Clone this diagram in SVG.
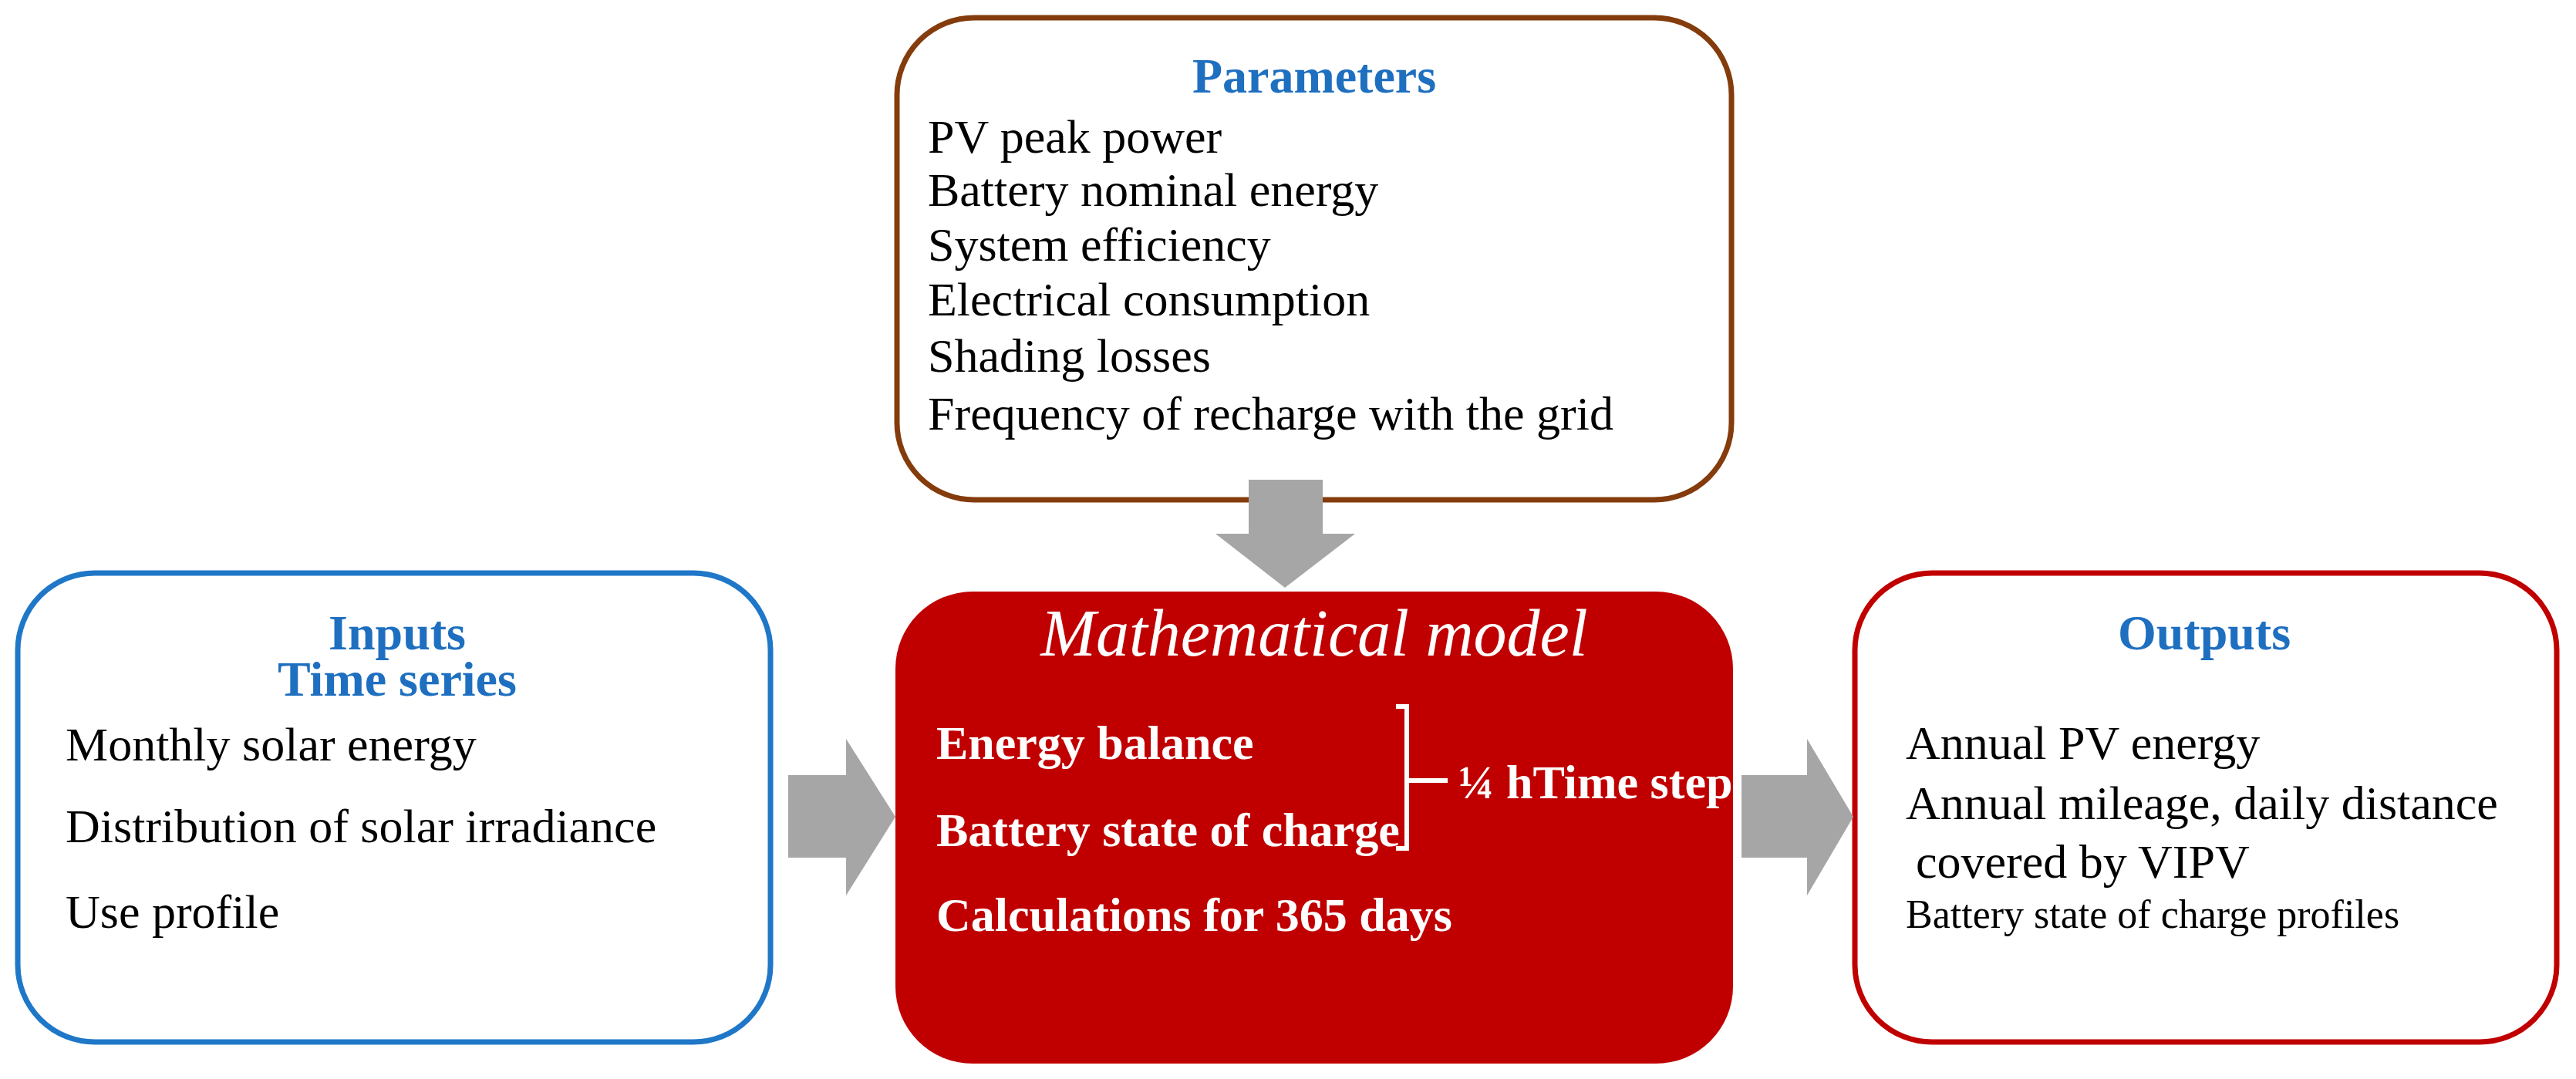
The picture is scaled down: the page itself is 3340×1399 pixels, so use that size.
<svg xmlns="http://www.w3.org/2000/svg" width="3340" height="1399" viewBox="0 0 3340 1399">
<style>
text{font-family:"Liberation Serif","Times New Roman",serif;font-size:62px;fill:#000}
.h{fill:#1f6fc0;font-weight:bold;text-anchor:middle;font-size:64px}
.w{fill:#fff;font-weight:bold;font-size:62px}
.arr{fill:#a6a6a6}
</style>
<rect width="3340" height="1399" fill="#fff"/>
<g id="parameters">
<rect x="1163" y="23" width="1082" height="625" rx="100" fill="#fff" stroke="#843c0c" stroke-width="7"/>
<text class="h" x="1704" y="120">Parameters</text>
<text x="1203" y="198">PV peak power</text>
<text x="1203" y="267">Battery nominal energy</text>
<text x="1203" y="338">System efficiency</text>
<text x="1203" y="409">Electrical consumption</text>
<text x="1203" y="482">Shading losses</text>
<text x="1203" y="557">Frequency of recharge with the grid</text>
</g>
<g id="inputs">
<rect x="23" y="743" width="976" height="608" rx="100" fill="#fff" stroke="#1f77c8" stroke-width="7"/>
<text class="h" x="515" y="842">Inputs</text>
<text class="h" x="515" y="902">Time series</text>
<text x="85" y="986">Monthly solar energy</text>
<text x="85" y="1092">Distribution of solar irradiance</text>
<text x="85" y="1203">Use profile</text>
</g>
<g id="model">
<rect x="1161" y="767" width="1086" height="612" rx="100" fill="#c00000"/>
<text x="1704" y="850" text-anchor="middle" style="fill:#fff;font-style:italic;font-size:86px">Mathematical model</text>
<text class="w" x="1214" y="984">Energy balance</text>
<text class="w" x="1214" y="1097">Battery state of charge</text>
<text class="w" x="1214" y="1207">Calculations for 365 days</text>
<path d="M1810 916 H1824 V1100 H1810 M1824 1012 H1877" fill="none" stroke="#fff" stroke-width="6"/>
<text class="w" x="1891" y="1035">¼ hTime step</text>
</g>
<g id="outputs">
<rect x="2405" y="743" width="910" height="608" rx="100" fill="#fff" stroke="#c00000" stroke-width="7"/>
<text class="h" x="2858" y="842">Outputs</text>
<text x="2471" y="984">Annual PV energy</text>
<text x="2471" y="1062">Annual mileage, daily distance</text>
<text x="2484" y="1138">covered by VIPV</text>
<text x="2471" y="1203" style="font-size:52px">Battery state of charge profiles</text>
</g>
<g id="connectors">
<polygon class="arr" points="1619,622 1715,622 1715,692 1757,692 1666,762 1576,692 1619,692"/>
<polygon class="arr" points="1022,1005 1097,1005 1097,958 1161,1059 1097,1161 1097,1112 1022,1112"/>
<polygon class="arr" points="2258,1005 2343,1005 2343,958 2403,1059 2343,1161 2343,1112 2258,1112"/>
</g>
</svg>
